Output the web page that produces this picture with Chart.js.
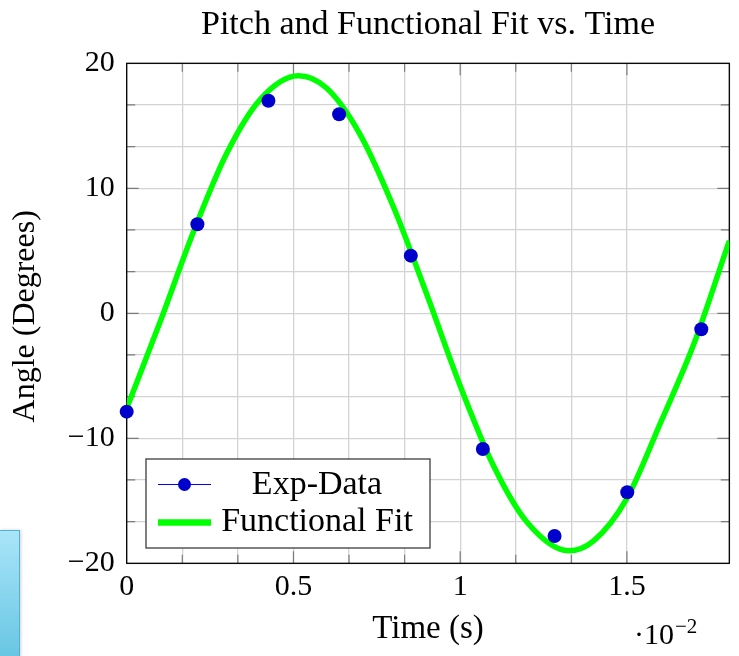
<!DOCTYPE html>
<html>
<head>
<meta charset="utf-8">
<title>Pitch and Functional Fit vs. Time</title>
<script src="https://cdn.jsdelivr.net/npm/chart.js@4.4.0/dist/chart.umd.min.js"></script>
<style>
  html, body { margin: 0; padding: 0; background: #fff; }
  #wrap { position: relative; width: 739px; height: 656px; }
  #side-tab {
    position: absolute; left: 0; top: 530px; width: 19px; height: 126px;
    background: linear-gradient(#a9e5f9, #68c6e3);
    border: 1px solid #56b0d0; border-left: none; border-bottom: none;
    box-shadow: 1px 0 3px rgba(0, 0, 0, 0.18);
  }
</style>
</head>
<body>
<div id="wrap">
  <canvas id="chart-pitch"></canvas>
  <div id="side-tab"></div>
</div>
<script>
const SERIF = "'Liberation Serif', 'Times New Roman', serif";

// measured pitch samples (time in units of 1e-2 s)
const expTime = [0, 0.212, 0.425, 0.637, 0.852, 1.068, 1.283, 1.501, 1.723];
const expAngle = [-7.87, 7.12, 17.0, 15.92, 4.61, -10.86, -17.82, -14.32, -1.28];

// fitted curve, sampled along the time axis
const fitTime = [0, 0.1, 0.2, 0.3, 0.4, 0.515, 0.6, 0.7, 0.8, 0.9, 1.0, 1.1, 1.2, 1.325, 1.4, 1.5, 1.6, 1.7, 1.807];
const fitAngle = [-7.6, -0.7, 6.5, 12.8, 17.1, 19.0, 18.0, 14.3, 8.5, 1.5, -5.8, -12.2, -16.7, -19.0, -18.2, -14.8, -8.8, -2.5, 5.8];

// labelled ticks
const xMajorTicks = [0, 0.5, 1, 1.5];
const xTickLabels = ["0", "0.5", "1", "1.5"];
const yMajorTicks = [-20, -10, 0, 10, 20];
const yTickLabels = ["\u221220", "\u221210", "0", "10", "20"];

const seriesNames = ["Exp-Data", "Functional Fit"];

function majorIndex(list, value) {
  return list.findIndex((t) => Math.abs(t - value) < 1e-6);
}

// box frame with inward tick marks on all four sides
const frameTicksPlugin = {
  id: "frameTicks",
  beforeDatasetsDraw(chart) {
    const { ctx, chartArea: a, scales } = chart;
    const sx = scales.x;
    const sy = scales.y;
    ctx.save();
    ctx.strokeStyle = "#7c7c7c";
    ctx.lineWidth = 1.2;
    ctx.beginPath();
    sx.ticks.forEach((t) => {
      if (t.value <= sx.min + 1e-6 || t.value >= sx.max - 1e-6) return;
      const px = sx.getPixelForValue(t.value);
      const len = majorIndex(xMajorTicks, t.value) >= 0 ? 12 : 8.5;
      ctx.moveTo(px, a.bottom);
      ctx.lineTo(px, a.bottom - len);
      ctx.moveTo(px, a.top);
      ctx.lineTo(px, a.top + len);
    });
    sy.ticks.forEach((t) => {
      if (t.value <= sy.min + 1e-6 || t.value >= sy.max - 1e-6) return;
      const py = sy.getPixelForValue(t.value);
      const len = majorIndex(yMajorTicks, t.value) >= 0 ? 12 : 8.5;
      ctx.moveTo(a.left, py);
      ctx.lineTo(a.left + len, py);
      ctx.moveTo(a.right, py);
      ctx.lineTo(a.right - len, py);
    });
    ctx.stroke();

    ctx.strokeStyle = "#000";
    ctx.lineWidth = 1.3;
    ctx.strokeRect(a.left, a.top, a.right - a.left, a.bottom - a.top);
    ctx.restore();
  },
};

// title, axis labels, scale exponent and the boxed legend
const annotationsPlugin = {
  id: "annotations",
  afterDraw(chart) {
    const { ctx, chartArea: a } = chart;
    const midX = (a.left + a.right) / 2;
    ctx.save();
    ctx.fillStyle = "#000";
    ctx.textAlign = "center";
    ctx.textBaseline = "alphabetic";

    ctx.font = "34px " + SERIF;
    ctx.fillText("Pitch and Functional Fit vs. Time", midX, 33.5);

    ctx.font = "33px " + SERIF;
    ctx.fillText("Time (s)", midX, 638);

    ctx.save();
    ctx.translate(33.5, (a.top + a.bottom) / 2 + 3);
    ctx.rotate(-Math.PI / 2);
    ctx.font = "32px " + SERIF;
    ctx.fillText("Angle (Degrees)", 0, 0);
    ctx.restore();

    // x scale factor ·10^−2
    ctx.textAlign = "left";
    ctx.font = "30px " + SERIF;
    ctx.fillText("\u00b710", 634, 644);
    const w = ctx.measureText("\u00b710").width;
    ctx.font = "21px " + SERIF;
    ctx.fillText("\u22122", 634 + w + 1, 633);

    // legend
    const ds = chart.data.datasets;
    const box = { x: 146, y: 459, w: 284, h: 89 };
    ctx.fillStyle = "#fff";
    ctx.fillRect(box.x, box.y, box.w, box.h);
    ctx.strokeStyle = "#3c3c3c";
    ctx.lineWidth = 1.3;
    ctx.strokeRect(box.x, box.y, box.w, box.h);

    const lineX0 = box.x + 12;
    const lineX1 = box.x + 65;
    const row1 = box.y + 25.5;
    const row2 = box.y + 63.5;

    ctx.strokeStyle = "#0000ff";
    ctx.lineWidth = 1;
    ctx.beginPath();
    ctx.moveTo(lineX0, row1);
    ctx.lineTo(lineX1, row1);
    ctx.stroke();
    ctx.fillStyle = ds[0].backgroundColor;
    ctx.beginPath();
    ctx.arc((lineX0 + lineX1) / 2, row1, 6.5, 0, Math.PI * 2);
    ctx.fill();

    ctx.strokeStyle = ds[1].borderColor;
    ctx.lineWidth = 6.5;
    ctx.beginPath();
    ctx.moveTo(lineX0, row2);
    ctx.lineTo(lineX1, row2);
    ctx.stroke();

    ctx.fillStyle = "#000";
    ctx.textAlign = "center";
    ctx.font = "34px " + SERIF;
    const textX = box.x + 171;
    ctx.fillText(ds[0].label, textX, row1 + 9.5);
    ctx.fillText(ds[1].label, textX, row2 + 8.5);
    ctx.restore();
  },
};

const ctx_pitch = document.getElementById("chart-pitch");

const chart_pitch = new Chart(ctx_pitch, {
  type: "scatter",
  data: {
    datasets: [
      {
        label: seriesNames[0],
        data: expTime.map((t, i) => ({ x: t, y: expAngle[i] })),
        showLine: false,
        pointRadius: 7,
        pointHoverRadius: 7,
        backgroundColor: "#0000cc",
        borderColor: "#0000cc",
        borderWidth: 0,
        clip: false,
      },
      {
        label: seriesNames[1],
        data: fitTime.map((t, i) => ({ x: t, y: fitAngle[i] })),
        showLine: true,
        pointRadius: 0,
        pointHoverRadius: 0,
        borderColor: "#00ff00",
        backgroundColor: "#00ff00",
        borderWidth: 5.5,
        cubicInterpolationMode: "monotone",
        fill: false,
      },
    ],
  },
  options: {
    responsive: true,
    maintainAspectRatio: false,
    animation: false,
    events: [],
    layout: { padding: { left: 0, right: 9.7, top: 63.3, bottom: 0 } },
    plugins: {
      legend: { display: false },
      title: { display: false },
      tooltip: { enabled: false },
    },
    scales: {
      x: {
        type: "linear",
        min: 0,
        max: 1.807,
        afterFit(scale) {
          scale.height = 92.7;
        },
        grid: { color: "#d3d3d3", lineWidth: 1.3, drawTicks: false },
        border: { display: false },
        ticks: {
          stepSize: 1 / 6,
          autoSkip: false,
          maxRotation: 0,
          minRotation: 0,
          padding: 6,
          color: "#000",
          font: { family: SERIF, size: 30 },
          callback(value) {
            const i = majorIndex(xMajorTicks, value);
            return i >= 0 ? xTickLabels[i] : "";
          },
        },
      },
      y: {
        type: "linear",
        min: -20,
        max: 20,
        afterFit(scale) {
          scale.width = 126.7;
        },
        grid: { color: "#d3d3d3", lineWidth: 1.3, drawTicks: false },
        border: { display: false },
        ticks: {
          stepSize: 10 / 3,
          autoSkip: false,
          padding: 12,
          color: "#000",
          font: { family: SERIF, size: 30 },
          callback(value) {
            const i = majorIndex(yMajorTicks, value);
            return i >= 0 ? yTickLabels[i] : "";
          },
        },
      },
    },
  },
  plugins: [frameTicksPlugin, annotationsPlugin],
});
</script>
</body>
</html>
